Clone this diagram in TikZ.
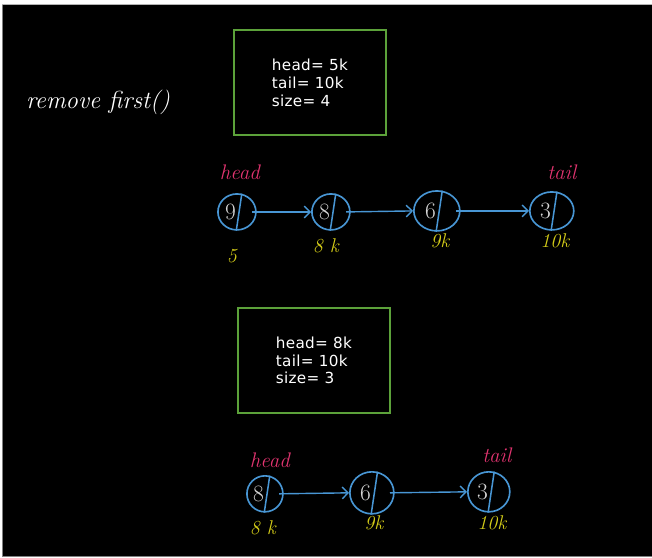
\documentclass[tikz,border=0pt]{standalone}
\usepackage{fontspec}
\newfontfamily\boxfont[LetterSpace=2]{DejaVu Sans}
\usetikzlibrary{shapes.geometric,arrows.meta,positioning}

\definecolor{chalkblue}{RGB}{72,150,212}
\definecolor{chalkpink}{RGB}{226,52,112}
\definecolor{chalkyellow}{RGB}{212,204,24}
\definecolor{chalkgreen}{RGB}{92,162,58}
\definecolor{chalkgrey}{RGB}{214,214,214}

\tikzset{
	listnode/.style={ellipse, draw=chalkblue, line width=1.4pt, inner sep=0pt,
		text=chalkgrey, font=\fontsize{20}{20}\selectfont},
	slash/.style={draw=chalkblue, line width=1.3pt},
	link/.style={draw=chalkblue, line width=1.2pt, -{Straight Barb[length=5pt,width=10pt]}},
	statebox/.style={draw=chalkgreen, line width=1.6pt, align=left, text=white,
		minimum width=4.56cm, minimum height=3.15cm,
		font=\boxfont\fontsize{13}{15.3}\selectfont},
	pointer/.style={text=chalkpink, font=\itshape\fontsize{18}{18}\selectfont},
	address/.style={text=chalkyellow, font=\itshape\fontsize{17}{17}\selectfont},
}

\begin{document}
\begin{tikzpicture}[x=0.03cm, y=-0.03cm]
	%background
	\fill[white] (0,0) rectangle (652,558);
	\fill[black] (3,5) rectangle (652,556);
	\draw[gray] (2.5,5) -- (2.5,556.5) -- (652,556.5);
	\draw[gray!60] (2.5,4.5) -- (652,4.5);
	%title
	\node[text=white, font=\itshape\fontsize{21}{21}\selectfont] (title) at (98,102) {remove first()};
	%state boxes
	\node[statebox] (box1) at (310,82.5) {head= 5k\\tail= 10k\\size= 4};
	\node[statebox] (box2) at (314,360.5) {head= 8k\\tail= 10k\\size= 3};
	%nodes before
	\foreach \n/\x/\y/\v/\w/\h in {
		n1/237/212/9/38/36,
		n2/331/212/8/38/36,
		n3/437/211/6/46/40,
		n4/552/211/3/44/38}
	{
		\node[listnode, minimum width=\w*0.03cm, minimum height=\h*0.03cm] (\n) at (\x,\y) {\makebox[20pt][l]{\v}};
		\draw[slash] (\n.75) -- (\n.268);
	}
	%nodes after
	\foreach \n/\x/\y/\v/\w/\h in {
		m1/265/494/8/36/36,
		m2/372/493/6/44/42,
		m3/489/492/3/42/40}
	{
		\node[listnode, minimum width=\w*0.03cm, minimum height=\h*0.03cm] (\n) at (\x,\y) {\makebox[20pt][l]{\v}};
		\draw[slash] (\n.75) -- (\n.268);
	}
	%links
	\foreach \a/\b in {n1/n2, n2/n3, n3/n4, m1/m2, m2/m3}
	\draw[link] ([xshift=-4pt]\a.east) -- (\b.west);
	%pointers
	\node[pointer] (head1) at (240,172) {head};
	\node[pointer] (tail1) at (562,172) {tail};
	\node[pointer] (head2) at (270,460) {head};
	\node[pointer] (tail2) at (497,455) {tail};
	%addresses
	\node[address] (a1) at (232,256) {5};
	\node[address] (a2) at (326,246) {8 k};
	\node[address] (a3) at (440,241) {9k};
	\node[address] (a4) at (555,241) {10k};
	\node[address] (b1) at (263,528) {8 k};
	\node[address] (b2) at (374,523) {9k};
	\node[address] (b3) at (492,523) {10k};
\end{tikzpicture}
\end{document}
